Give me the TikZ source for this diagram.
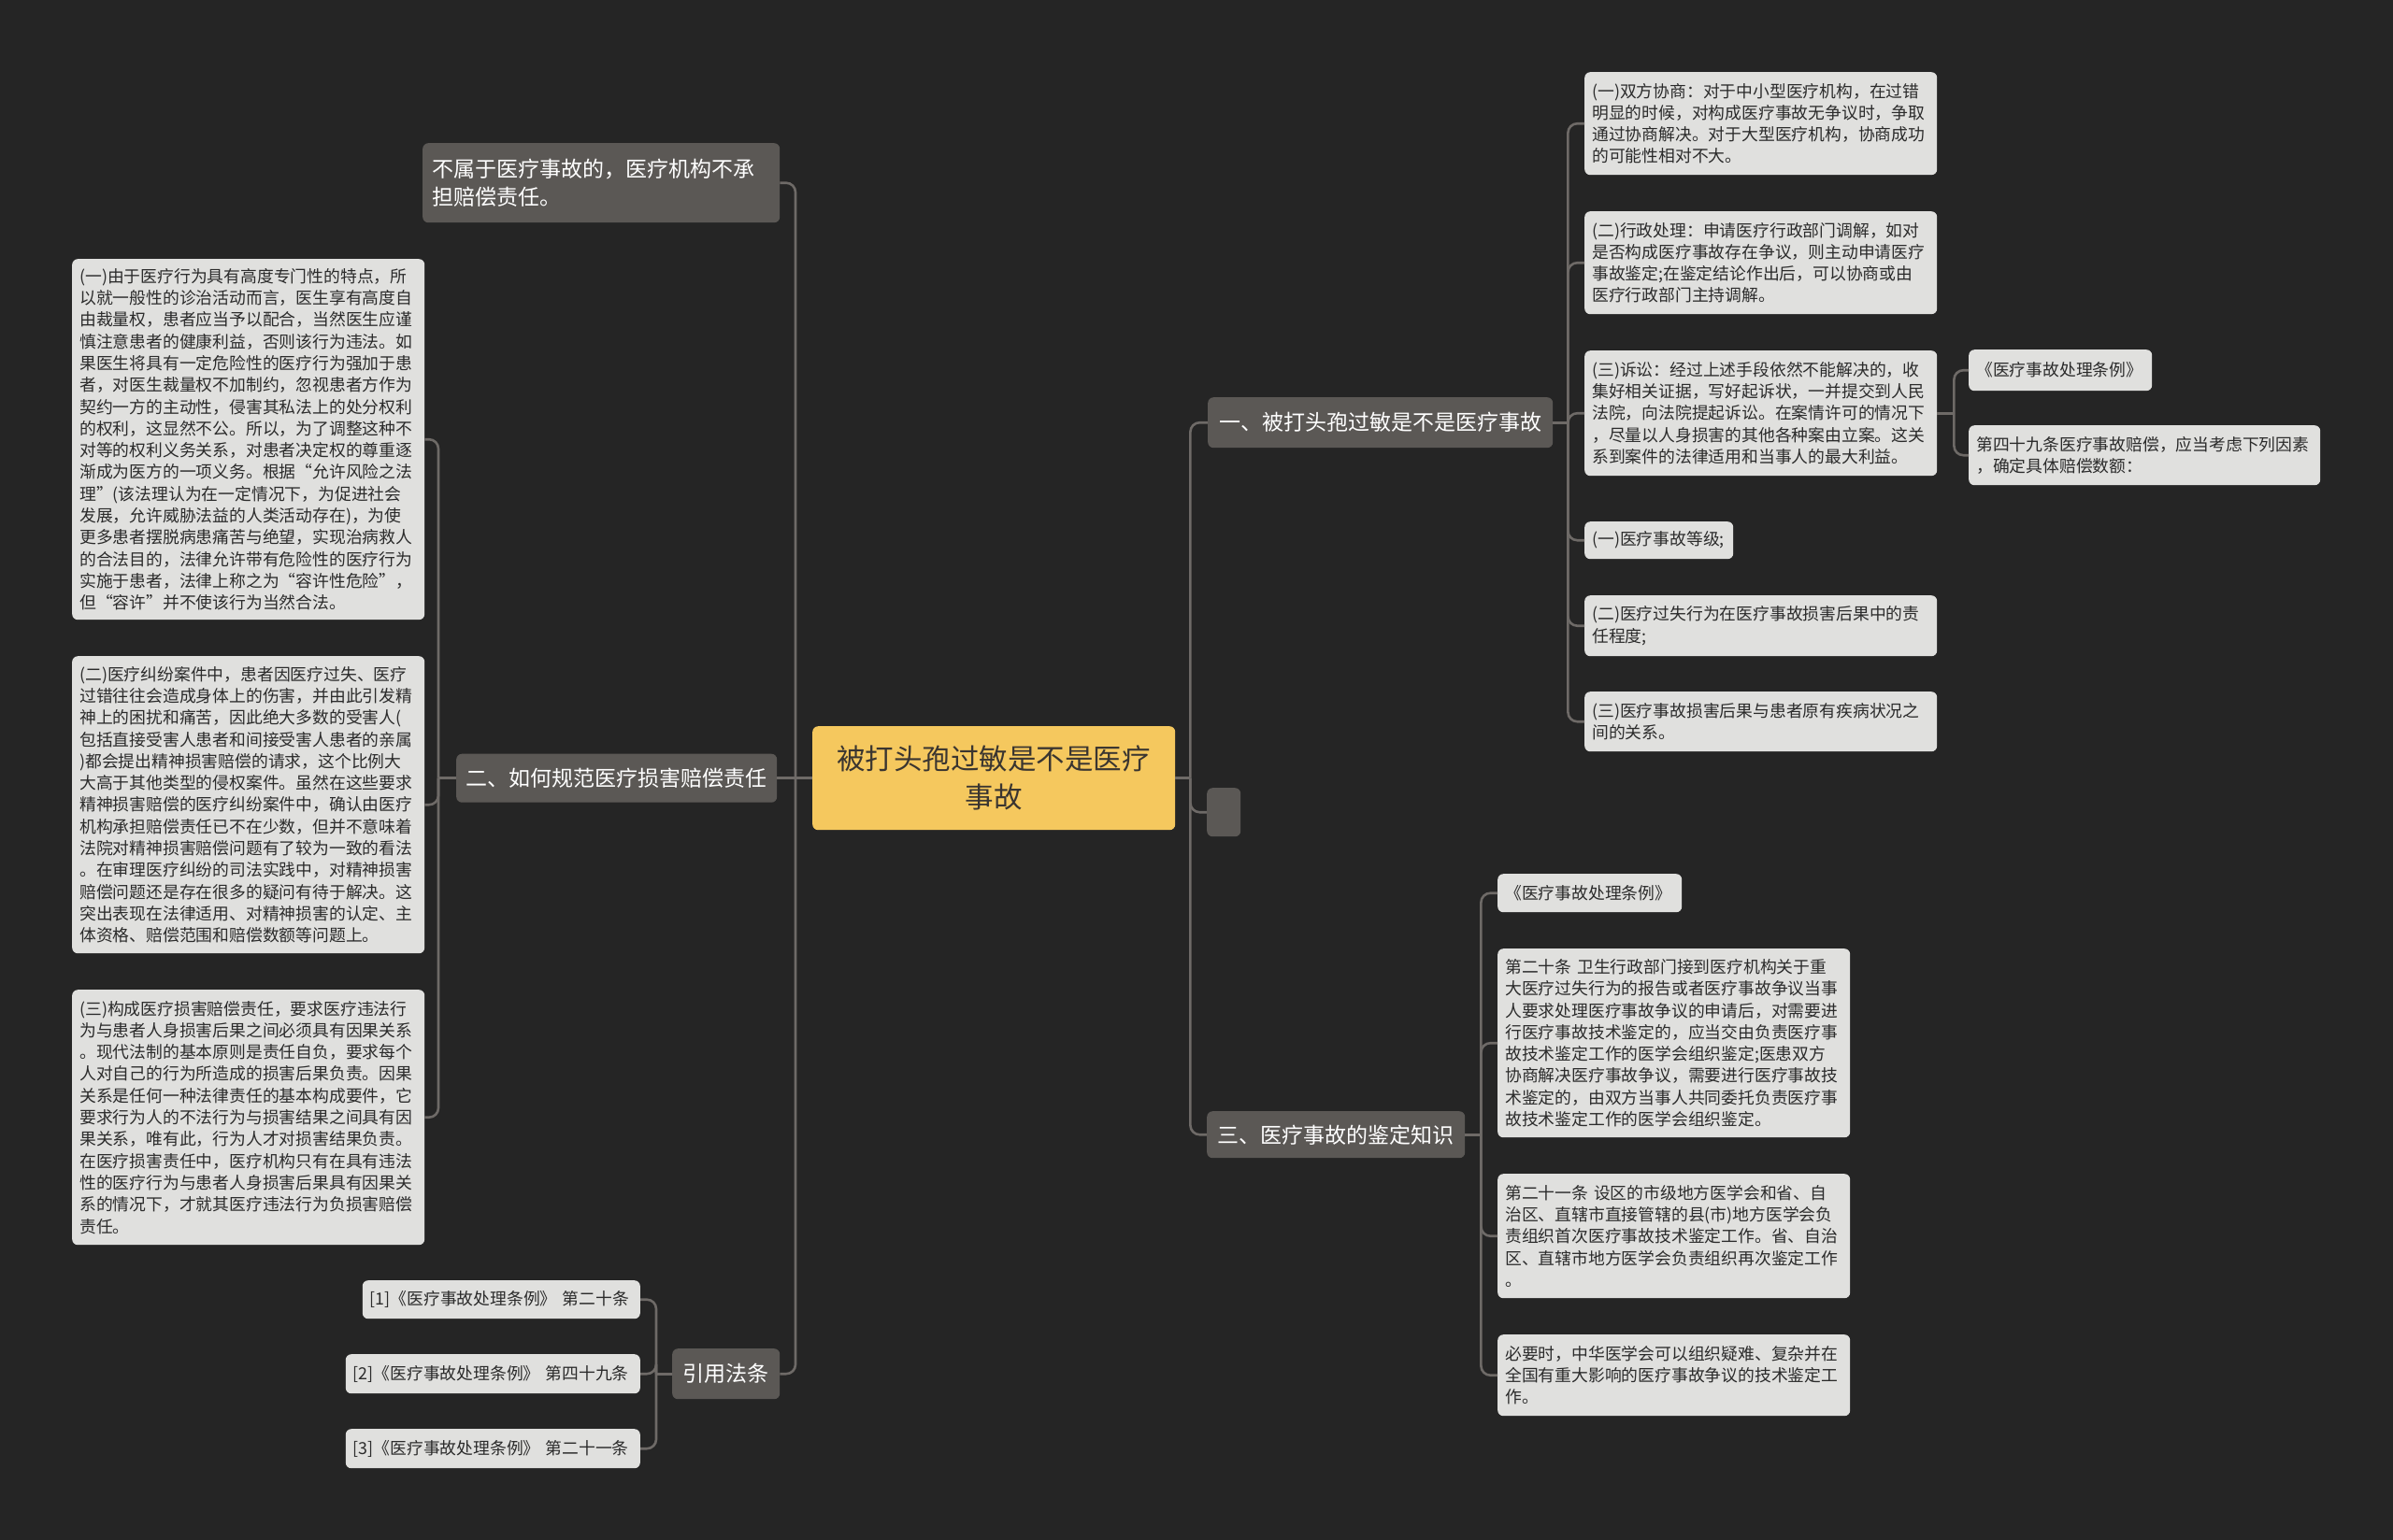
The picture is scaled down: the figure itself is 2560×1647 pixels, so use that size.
\documentclass[tikz,border=0pt]{standalone}
\usepackage{fontspec}
\setmainfont{Noto Sans CJK SC}
\definecolor{bgc}{HTML}{252525}
\definecolor{darkn}{HTML}{5B5855}
\definecolor{lightn}{HTML}{E0E0DE}
\definecolor{lighttxt}{HTML}{2B2B2B}
\definecolor{centn}{HTML}{F5C85E}
\definecolor{centtxt}{HTML}{3A3530}
\definecolor{connc}{HTML}{6E6A67}
\tikzset{
  lbox/.style={fill=lightn, text=lighttxt, rounded corners=6pt, anchor=north west,
    inner xsep=8pt, inner ysep=3pt, align=left, font=\fontsize{17.8}{23.3}\selectfont},
  dbox/.style={fill=darkn, text=white, rounded corners=6pt, anchor=north west,
    inner xsep=10pt, inner ysep=3pt, font=\fontsize{23}{30}\selectfont},
  cbox/.style={fill=centn, text=centtxt, rounded corners=6pt, anchor=north west,
    inner xsep=10pt, inner ysep=3pt, align=center, font=\fontsize{30.5}{41}\selectfont},
  conn/.style={draw=connc, line width=2.6pt, rounded corners=10pt},
}
\begin{document}
\begin{tikzpicture}[x=1pt,y=-1pt]
\useasboundingbox (0,0) rectangle (2560,1647);
\fill[bgc] (-20,-20) rectangle (2580,1667);

% center
\node[cbox, text width=368pt, minimum height=111pt] (c) at (869,777) {被打头孢过敏是不是医疗\\事故};

% first level
\node[dbox, align=left, text width=362pt, minimum height=85pt] (b0) at (452,153) {不属于医疗事故的，医疗机构不承\\担赔偿责任。};
\node[dbox, align=center, text width=323pt, minimum height=52pt] (b2) at (488,806.5) {二、如何规范医疗损害赔偿责任};
\node[dbox, align=center, text width=95pt, minimum height=54pt] (b4) at (719,1443) {引用法条};
\node[dbox, align=center, text width=349pt, minimum height=54pt] (b1) at (1292,425) {一、被打头孢过敏是不是医疗事故};
\node[dbox, minimum width=36pt, minimum height=52pt, inner sep=0pt] (be) at (1291,843) {};
\node[dbox, align=center, text width=256pt, minimum height=50pt] (b3) at (1291,1189) {三、医疗事故的鉴定知识};

% left texts of b2
\node[lbox, text width=361pt, minimum height=386pt] (l1) at (77,277) {(一)由于医疗行为具有高度专门性的特点，所\\以就一般性的诊治活动而言，医生享有高度自\\由裁量权，患者应当予以配合，当然医生应谨\\慎注意患者的健康利益，否则该行为违法。如\\果医生将具有一定危险性的医疗行为强加于患\\者，对医生裁量权不加制约，忽视患者方作为\\契约一方的主动性，侵害其私法上的处分权利\\的权利，这显然不公。所以，为了调整这种不\\对等的权利义务关系，对患者决定权的尊重逐\\渐成为医方的一项义务。根据“允许风险之法\\理”(该法理认为在一定情况下，为促进社会\\发展，允许威胁法益的人类活动存在)，为使\\更多患者摆脱病患痛苦与绝望，实现治病救人\\的合法目的，法律允许带有危险性的医疗行为\\实施于患者，法律上称之为“容许性危险”，\\但“容许”并不使该行为当然合法。};
\node[lbox, text width=361pt, minimum height=318pt] (l2) at (77,702) {(二)医疗纠纷案件中，患者因医疗过失、医疗\\过错往往会造成身体上的伤害，并由此引发精\\神上的困扰和痛苦，因此绝大多数的受害人(\\包括直接受害人患者和间接受害人患者的亲属\\)都会提出精神损害赔偿的请求，这个比例大\\大高于其他类型的侵权案件。虽然在这些要求\\精神损害赔偿的医疗纠纷案件中，确认由医疗\\机构承担赔偿责任已不在少数，但并不意味着\\法院对精神损害赔偿问题有了较为一致的看法\\。在审理医疗纠纷的司法实践中，对精神损害\\赔偿问题还是存在很多的疑问有待于解决。这\\突出表现在法律适用、对精神损害的认定、主\\体资格、赔偿范围和赔偿数额等问题上。};
\node[lbox, text width=361pt, minimum height=273pt] (l3) at (77,1059) {(三)构成医疗损害赔偿责任，要求医疗违法行\\为与患者人身损害后果之间必须具有因果关系\\。现代法制的基本原则是责任自负，要求每个\\人对自己的行为所造成的损害后果负责。因果\\关系是任何一种法律责任的基本构成要件，它\\要求行为人的不法行为与损害结果之间具有因\\果关系，唯有此，行为人才对损害结果负责。\\在医疗损害责任中，医疗机构只有在具有违法\\性的医疗行为与患者人身损害后果具有因果关\\系的情况下，才就其医疗违法行为负损害赔偿\\责任。};

% refs
\node[lbox, anchor=north east, text width=281pt, minimum height=41pt] (r1) at (685,1370) {[1]《医疗事故处理条例》 第二十条};
\node[lbox, anchor=north east, text width=299pt, minimum height=42pt] (r2) at (685,1449) {[2]《医疗事故处理条例》 第四十九条};
\node[lbox, anchor=north east, text width=299pt, minimum height=42pt] (r3) at (685,1529) {[3]《医疗事故处理条例》 第二十一条};

% right upper
\node[lbox, text width=361pt, minimum height=110pt] (u1) at (1695,77) {(一)双方协商：对于中小型医疗机构，在过错\\明显的时候，对构成医疗事故无争议时，争取\\通过协商解决。对于大型医疗机构，协商成功\\的可能性相对不大。};
\node[lbox, text width=361pt, minimum height=110pt] (u2) at (1695,226) {(二)行政处理：申请医疗行政部门调解，如对\\是否构成医疗事故存在争议，则主动申请医疗\\事故鉴定;在鉴定结论作出后，可以协商或由\\医疗行政部门主持调解。};
\node[lbox, text width=361pt, minimum height=134pt] (u3) at (1695,375) {(三)诉讼：经过上述手段依然不能解决的，收\\集好相关证据，写好起诉状，一并提交到人民\\法院，向法院提起诉讼。在案情许可的情况下\\，尽量以人身损害的其他各种案由立案。这关\\系到案件的法律适用和当事人的最大利益。};
\node[lbox, text width=180pt, minimum height=44pt] (v1) at (2106,374) {《医疗事故处理条例》};
\node[lbox, text width=360pt, minimum height=64pt] (v2) at (2106,455) {第四十九条医疗事故赔偿，应当考虑下列因素\\，确定具体赔偿数额：};
\node[lbox, text width=143pt, minimum height=40pt] (u4) at (1695,558) {(一)医疗事故等级;};
\node[lbox, text width=361pt, minimum height=65pt] (u5) at (1695,637) {(二)医疗过失行为在医疗事故损害后果中的责\\任程度;};
\node[lbox, text width=361pt, minimum height=64pt] (u6) at (1695,740) {(三)医疗事故损害后果与患者原有疾病状况之\\间的关系。};

% right lower
\node[lbox, text width=181pt, minimum height=41pt] (w1) at (1602,935) {《医疗事故处理条例》};
\node[lbox, text width=361pt, minimum height=202pt] (w2) at (1602,1015) {第二十条 卫生行政部门接到医疗机构关于重\\大医疗过失行为的报告或者医疗事故争议当事\\人要求处理医疗事故争议的申请后，对需要进\\行医疗事故技术鉴定的，应当交由负责医疗事\\故技术鉴定工作的医学会组织鉴定;医患双方\\协商解决医疗事故争议，需要进行医疗事故技\\术鉴定的，由双方当事人共同委托负责医疗事\\故技术鉴定工作的医学会组织鉴定。};
\node[lbox, text width=361pt, minimum height=133pt] (w3) at (1602,1256) {第二十一条 设区的市级地方医学会和省、自\\治区、直辖市直接管辖的县(市)地方医学会负\\责组织首次医疗事故技术鉴定工作。省、自治\\区、直辖市地方医学会负责组织再次鉴定工作\\。};
\node[lbox, text width=361pt, minimum height=87pt] (w4) at (1602,1428) {必要时，中华医学会可以组织疑难、复杂并在\\全国有重大影响的医疗事故争议的技术鉴定工\\作。};

% connectors: stub from parent, then rounded elbow from the trunk to each child
\draw[conn] (c.east) -- ([xshift=16pt]c.east);
\foreach \t in {b1,be,b3} \draw[conn] ([xshift=16pt]c.east) |- (\t.west);
\draw[conn] (c.west) -- (b2.east);
\foreach \t in {b0,b4} \draw[conn] ([xshift=-18pt]c.west) |- (\t.east);
\draw[conn] (b2.west) -- ([xshift=-19pt]b2.west);
\foreach \t in {l1,l2,l3} \draw[conn] ([xshift=-19pt]b2.west) |- (\t.east);
\draw[conn] (b4.west) -- ([xshift=-17pt]b4.west);
\foreach \t in {r1,r2,r3} \draw[conn] ([xshift=-17pt]b4.west) |- (\t.east);
\draw[conn] (b1.east) -- ([xshift=16pt]b1.east);
\foreach \t in {u1,u2,u3,u4,u5,u6} \draw[conn] ([xshift=16pt]b1.east) |- (\t.west);
\draw[conn] (u3.east) -- ([xshift=18pt]u3.east);
\foreach \t in {v1,v2} \draw[conn] ([xshift=18pt]u3.east) |- (\t.west);
\draw[conn] (b3.east) -- ([xshift=17pt]b3.east);
\foreach \t in {w1,w2,w3,w4} \draw[conn] ([xshift=17pt]b3.east) |- (\t.west);
\end{tikzpicture}
\end{document}
